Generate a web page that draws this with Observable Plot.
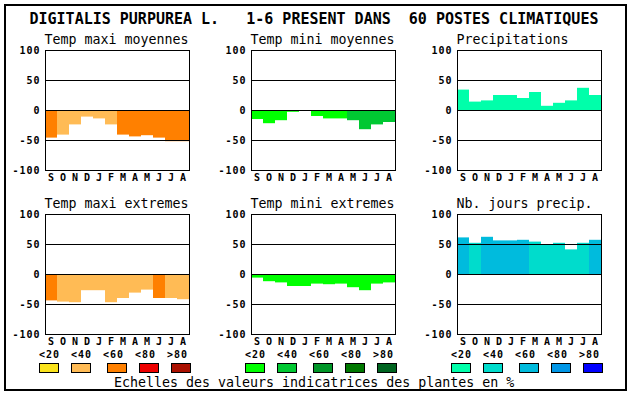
<!DOCTYPE html>
<html>
<head>
<meta charset="utf-8">
<script src="https://cdn.jsdelivr.net/npm/d3@7"></script>
<script src="https://cdn.jsdelivr.net/npm/@observablehq/plot@0.6"></script>
<style>
  html, body { margin: 0; padding: 0; background: #fff; }
  #wrap { position: relative; width: 630px; height: 394px; background: #fff; overflow: hidden; }
  #wrap > svg, #wrap > div { position: absolute; }
</style>
</head>
<body>
<div id="wrap"></div>
<script>
// ---------- data ----------
const title = "DIGITALIS PURPUREA L.   1-6 PRESENT DANS  60 POSTES CLIMATIQUES";
const caption = "Echelles des valeurs indicatrices des plantes en %";
const months = ["S","O","N","D","J","F","M","A","M","J","J","A"];
const classLabels = ["<20","<40","<60","<80",">80"];
const yTicks = [-100, -50, 0, 50, 100];

const panelTitles = ["Temp maxi moyennes","Temp mini moyennes","Precipitations",
                     "Temp maxi extremes","Temp mini extremes","Nb. jours precip."];

const tmaxMoy     = [-46,-41,-24,-11,-14,-24,-41,-44,-42,-46,-52,-52];
const tmaxMoyCls  = [2,1,1,1,1,1,2,2,2,2,2,2];
const tminMoy     = [-15,-22,-17,-3,0,-10,-14,-14,-17,-32,-24,-20];
const tminMoyCls  = [0,0,0,0,0,0,0,0,1,1,1,1];
const precip      = [34,14,16,25,25,20,30,7,12,16,37,25];
const precipCls   = [0,0,0,0,0,0,0,0,0,0,0,0];
const tmaxExt     = [-44,-46,-47,-27,-27,-47,-40,-31,-26,-40,-40,-42];
const tmaxExtCls  = [2,1,1,1,1,1,1,1,1,2,1,1];
const tminExt     = [-6,-12,-14,-20,-20,-16,-17,-16,-22,-27,-16,-14];
const tminExtCls  = [0,0,0,0,0,0,0,0,0,0,0,0];
const nbJours     = [61,52,62,56,56,57,54,50,52,41,52,57];
const nbJoursCls  = [2,1,2,2,2,2,1,1,1,1,1,2];

const oranges = ["#fae31c","#ffbb55","#ff8000","#ee0000","#aa1000"];
const greens  = ["#00ff00","#00c832","#009628","#007800","#006420"];
const blues   = ["#00ffaa","#00dccc","#00bbdd","#0096e6","#0000ff"];

const panels = [
  {values: tmaxMoy, cls: tmaxMoyCls, pal: oranges},
  {values: tminMoy, cls: tminMoyCls, pal: greens},
  {values: precip,  cls: precipCls,  pal: blues},
  {values: tmaxExt, cls: tmaxExtCls, pal: oranges},
  {values: tminExt, cls: tminExtCls, pal: greens},
  {values: nbJours, cls: nbJoursCls, pal: blues}
];
const palettes = [oranges, greens, blues];

// ---------- layout ----------
const wrap = document.getElementById("wrap");
const MONO = "'DejaVu Sans Mono', 'Liberation Mono', monospace";
const colStep = 206, rowTop = [30, 194];

panels.forEach((p, k) => {
  const r = Math.floor(k / 3), c = k % 3;
  const data = p.values.map((v, i) => ({i, v, c: p.cls[i]}));
  const chart = Plot.plot({
    width: 206, height: 156,
    marginLeft: 45, marginRight: 17, marginTop: 20, marginBottom: 16,
    style: {fontFamily: MONO, fontSize: "10px", fontWeight: "bold", letterSpacing: "1px",
            background: "transparent", color: "#000"},
    x: {type: "band", domain: d3.range(12), padding: 0, tickSize: 0, tickPadding: 3,
        tickFormat: i => months[i], label: null},
    y: {domain: [-100, 100], ticks: yTicks, tickSize: 0, tickPadding: 5, label: null,
        tickFormat: d => String(d)},
    color: {type: "ordinal", domain: [0,1,2,3,4], range: p.pal},
    marks: [
      Plot.barY(data, {x: "i", y: "v", fill: "c"}),
      Plot.ruleY([-50, 0, 50], {stroke: "#000", strokeWidth: 1}),
      Plot.frame({stroke: "#000", strokeWidth: 1})
    ]
  });
  chart.style.position = "absolute";
  chart.style.left = (colStep * c) + "px";
  chart.style.top = rowTop[r] + "px";
  wrap.appendChild(chart);
});

// ---------- overlay: border, titles, legend, caption ----------
const svg = d3.select(wrap).append("svg")
  .attr("width", 630).attr("height", 394)
  .style("left", "0px").style("top", "0px")
  .style("pointer-events", "none");

svg.append("rect").attr("x", 5).attr("y", 5).attr("width", 621).attr("height", 385)
  .attr("fill", "none").attr("stroke", "#000").attr("stroke-width", 2);

svg.append("text").attr("x", 29.5).attr("y", 23.5)
  .attr("font-family", MONO).attr("font-size", 15).attr("font-weight", "bold")
  .attr("xml:space", "preserve").style("white-space", "pre")
  .text(title);

panelTitles.forEach((t, k) => {
  const r = Math.floor(k / 3), c = k % 3;
  svg.append("text").attr("x", 44.5 + colStep * c).attr("y", r === 0 ? 43.5 : 207.5)
    .attr("font-family", MONO).attr("font-size", 13.3)
    .text(t);
});

const boxOff = [0, 32, 68, 100, 132];
palettes.forEach((pal, g) => {
  classLabels.forEach((lab, k) => {
    svg.append("text").attr("x", 49.5 + 32 * k + colStep * g).attr("y", 357.5)
      .attr("text-anchor", "middle")
      .attr("font-family", MONO).attr("font-size", 10).attr("font-weight", "bold")
      .style("letter-spacing", "1px")
      .text(lab);
    const cx = 49.3 + boxOff[k] + colStep * g;
    svg.append("rect").attr("x", Math.round(cx - 10) + 0.5).attr("y", 363.5)
      .attr("width", 19).attr("height", 9)
      .attr("fill", pal[k]).attr("stroke", "#000").attr("stroke-width", 1);
  });
});

svg.append("text").attr("x", 114).attr("y", 386.5)
  .attr("font-family", MONO).attr("font-size", 13.3)
  .text(caption);
</script>
</body>
</html>
